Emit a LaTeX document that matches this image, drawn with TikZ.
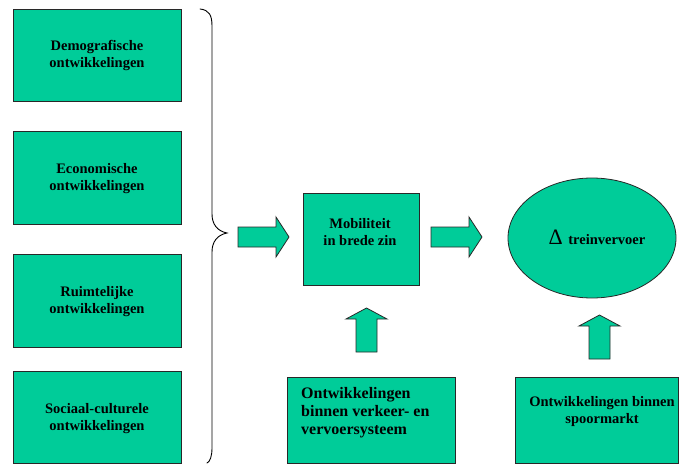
\documentclass[tikz,border=0pt]{standalone}
\usepackage{fontspec}
\setmainfont{Liberation Serif}
\usetikzlibrary{shapes.geometric,calc}
\definecolor{boxgreen}{RGB}{0,204,153}
\definecolor{edge}{RGB}{40,40,40}
\begin{document}
\begin{tikzpicture}[x=1pt,y=-1pt,
  box/.style={draw=edge, line width=0.8pt, fill=boxgreen, inner sep=0pt},
  lbl/.style={font=\bfseries\fontsize{14.5}{17}\selectfont, align=center, inner sep=0pt},
  biglbl/.style={font=\bfseries\fontsize{16}{18}\selectfont, align=left, inner sep=0pt},
  blk/.style={draw=edge, line width=0.8pt, fill=boxgreen, line join=miter},
  rarrow/.pic={\draw[blk] (0,-10) -- (38,-10) -- (38,-20) -- (51,0) -- (38,20) -- (38,10) -- (0,10) -- cycle;},
  uarrow/.pic={\draw[blk] (-10.5,0) -- (-10.5,-33) -- (-20.5,-33) -- (0,-44) -- (20.5,-33) -- (10.5,-33) -- (10.5,0) -- cycle;}
]
\useasboundingbox (0,0) rectangle (679,465);

% four driving factors
\node[box, minimum width=168, minimum height=92] (demo) at (97,55) {};
\node[box, minimum width=168, minimum height=93] (econ) at (97,177.5) {};
\node[box, minimum width=168, minimum height=93] (ruim) at (97,300.5) {};
\node[box, minimum width=168, minimum height=92] (soc)  at (97,417) {};
\node[lbl] (demotxt) at (97,55.5)  {Demografische\\ontwikkelingen};
\node[lbl] (econtxt) at (97,178.5) {Economische\\ontwikkelingen};
\node[lbl] (ruimtxt) at (97,302)   {Ruimtelijke\\ontwikkelingen};
\node[lbl] (soctxt)  at (97,418.5) {Sociaal-culturele\\ontwikkelingen};

% brace grouping the factors
\coordinate (btop) at (200,9);
\coordinate (btip) at (227,233);
\coordinate (bbot) at (207,463);
\draw[line width=0.9pt, line cap=round]
  (btop) .. controls (209,10) and (212,15) .. (212,26) -- (212,214)
  .. controls (212,224) and (217,231) .. (btip)
  .. controls (217,235) and (212,242) .. (212,252) -- (212,448)
  .. controls (212,456) and (210,462) .. (bbot);

% mobility and train transport
\node[box, minimum width=116, minimum height=92] (mob) at (361,239) {};
\node[lbl] (mobtxt) at (360,232.5) {Mobiliteit\\in brede zin};
\node[box, ellipse, minimum width=168, minimum height=120] (trein) at (592,238) {};
\node[anchor=base, inner sep=0pt] (treintxt) at (597,244.5)
  {{\fontsize{22}{22}\selectfont Δ}\hspace{5.5pt}{\bfseries\fontsize{14.5}{17}\selectfont treinvervoer}};

% block arrows
\pic (a1) at (238,237) {rarrow};
\pic (a2) at (431,237) {rarrow};
\pic (a3) at (366.5,352) {uarrow};
\pic (a4) at (599.5,359) {uarrow};

% system and market developments
\node[box, minimum width=168, minimum height=86] (verk) at (371,420) {};
\node[biglbl, anchor=west] (verktxt) at (301,413)
  {Ontwikkelingen\\binnen verkeer- en\\vervoersysteem};
\node[box, minimum width=163, minimum height=86] (spoor) at (596.5,420) {};
\node[lbl] (spoortxt) at (602,411.5) {Ontwikkelingen binnen\\spoormarkt};
\end{tikzpicture}
\end{document}
